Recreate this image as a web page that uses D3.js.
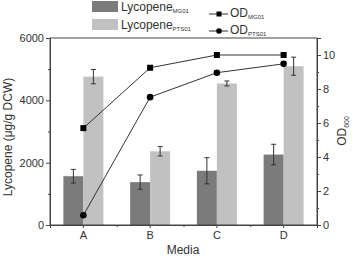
<!DOCTYPE html>
<html>
<head>
<meta charset="utf-8">
<script src="https://cdn.jsdelivr.net/npm/d3@7"></script>
<style>
  body { margin: 0; background: #fff; }
  svg text { font-family: "Liberation Sans", Arial, sans-serif; fill: #333; }
</style>
</head>
<body>
<svg width="356" height="258"></svg>
<script>
var media = ["A", "B", "C", "D"];
var lycMG01 = [1565, 1375, 1740, 2260];     // dark bars
var lycMG01Err = [220, 230, 420, 330];
var lycPTS01 = [4760, 2365, 4540, 5095];    // light bars
var lycPTS01Err = [230, 150, 80, 290];
var odMG01 = [5.7, 9.25, 10.0, 10.0];       // squares
var odPTS01 = [0.57, 7.52, 8.96, 9.48];     // circles
var leftTicks = [0, 2000, 4000, 6000];
var rightTicks = [0, 2, 4, 6, 8, 10];

var svg = d3.select("svg");
var m = {left: 50, right: 317, top: 38, bottom: 225};

var x = d3.scaleBand().domain(media).range([m.left, m.right]);
var yL = d3.scaleLinear().domain([0, 6000]).range([m.bottom, m.top]);
var yR = d3.scaleLinear().domain([0, 11]).range([m.bottom, m.top]);
var barW = 20;

var dark = "#7b7b7b", light = "#c1c1c1", ink = "#333";

// bars
svg.selectAll(".barMG").data(media).enter().append("rect")
    .attr("x", function(d) { return x(d) + x.bandwidth() / 2 - barW; })
    .attr("y", function(d, i) { return yL(lycMG01[i]); })
    .attr("width", barW)
    .attr("height", function(d, i) { return m.bottom - yL(lycMG01[i]); })
    .attr("fill", dark);
svg.selectAll(".barPTS").data(media).enter().append("rect")
    .attr("x", function(d) { return x(d) + x.bandwidth() / 2; })
    .attr("y", function(d, i) { return yL(lycPTS01[i]); })
    .attr("width", barW)
    .attr("height", function(d, i) { return m.bottom - yL(lycPTS01[i]); })
    .attr("fill", light);

// error bars
function errBars(vals, errs, offset) {
  media.forEach(function(d, i) {
    var cx = x(d) + x.bandwidth() / 2 + offset;
    var g = svg.append("g").attr("stroke", ink).attr("stroke-width", 1);
    g.append("line").attr("x1", cx).attr("x2", cx)
      .attr("y1", yL(vals[i] - errs[i])).attr("y2", yL(vals[i] + errs[i]));
    [vals[i] - errs[i], vals[i] + errs[i]].forEach(function(v) {
      g.append("line").attr("x1", cx - 2.5).attr("x2", cx + 2.5)
        .attr("y1", yL(v)).attr("y2", yL(v));
    });
  });
}
errBars(lycMG01, lycMG01Err, -barW / 2);
errBars(lycPTS01, lycPTS01Err, barW / 2);

// OD lines
var line = d3.line()
    .x(function(d, i) { return x(media[i]) + x.bandwidth() / 2; })
    .y(function(d) { return yR(d); });
[odMG01, odPTS01].forEach(function(s) {
  svg.append("path").attr("d", line(s)).attr("fill", "none")
    .attr("stroke", ink).attr("stroke-width", 1);
});
svg.selectAll(".sq").data(odMG01).enter().append("rect")
    .attr("x", function(d, i) { return x(media[i]) + x.bandwidth() / 2 - 3; })
    .attr("y", function(d) { return yR(d) - 3; })
    .attr("width", 6).attr("height", 6).attr("fill", "#000");
svg.selectAll(".ci").data(odPTS01).enter().append("circle")
    .attr("cx", function(d, i) { return x(media[i]) + x.bandwidth() / 2; })
    .attr("cy", function(d) { return yR(d); })
    .attr("r", 3.3).attr("fill", "#000");

// frame
svg.append("rect").attr("x", m.left).attr("y", m.top)
  .attr("width", m.right - m.left).attr("height", m.bottom - m.top)
  .attr("fill", "none").attr("stroke", "#444").attr("stroke-width", 1);

// axes
svg.append("g").attr("transform", "translate(" + m.left + ",0)")
  .call(d3.axisLeft(yL).tickValues(leftTicks).tickFormat(d3.format("d"))
    .tickSize(4).tickPadding(2));
svg.append("g").attr("transform", "translate(" + m.left + ",0)")
  .call(d3.axisLeft(yL).tickValues([1000, 3000, 5000]).tickSize(2).tickFormat(""));
svg.append("g").attr("transform", "translate(" + m.right + ",0)")
  .call(d3.axisRight(yR).tickValues(rightTicks).tickSize(4).tickPadding(2));
svg.append("g").attr("transform", "translate(" + m.right + ",0)")
  .call(d3.axisRight(yR).tickValues([1, 3, 5, 7, 9]).tickSize(2).tickFormat(""));
svg.append("g").attr("transform", "translate(0," + m.bottom + ")")
  .call(d3.axisBottom(x).tickSize(3).tickPadding(3));
svg.append("g").attr("transform", "translate(0," + m.bottom + ")")
  .call(d3.axisBottom(d3.scaleLinear().domain([0, 4]).range([m.left, m.right]))
    .tickValues([1, 2, 3]).tickSize(2).tickFormat(""));
svg.selectAll(".domain").attr("stroke", "#444");
svg.selectAll(".tick line").attr("stroke", "#444");
svg.selectAll(".tick text").attr("font-size", 11).attr("fill", "#333")
  .attr("font-family", "Liberation Sans, Arial, sans-serif");

// axis titles
svg.append("text").attr("transform", "translate(12,137) rotate(-90)")
  .attr("text-anchor", "middle").attr("font-size", 12)
  .text("Lycopene (\u03bcg/g DCW)");
svg.append("text").attr("x", 183).attr("y", 254)
  .attr("text-anchor", "middle").attr("font-size", 12).text("Media");
var odT = svg.append("text").attr("transform", "translate(346,131) rotate(-90)")
  .attr("text-anchor", "middle").attr("font-size", 12);
odT.append("tspan").text("OD");
odT.append("tspan").attr("font-size", 7).attr("dy", 3).text("600");

// legends
var legBars = [{name: "MG01", color: dark}, {name: "PTS01", color: light}];
legBars.forEach(function(d, i) {
  var yy = 1 + i * 18;
  svg.append("rect").attr("x", 92).attr("y", yy).attr("width", 26).attr("height", 11)
    .attr("fill", d.color);
  var t = svg.append("text").attr("x", 121).attr("y", yy + 10).attr("font-size", 12);
  t.append("tspan").text("Lycopene");
  t.append("tspan").attr("font-size", 6).attr("dy", 2).text(d.name);
});
var legLines = ["MG01", "PTS01"];
legLines.forEach(function(d, i) {
  var yy = 14 + i * 17;
  svg.append("line").attr("x1", 209).attr("x2", 228).attr("y1", yy).attr("y2", yy)
    .attr("stroke", ink).attr("stroke-width", 1);
  if (i === 0) {
    svg.append("rect").attr("x", 216.5).attr("y", yy - 2.5).attr("width", 5).attr("height", 5)
      .attr("fill", "#000");
  } else {
    svg.append("circle").attr("cx", 219).attr("cy", yy).attr("r", 2.8).attr("fill", "#000");
  }
  var t = svg.append("text").attr("x", 230).attr("y", yy + 3).attr("font-size", 12);
  t.append("tspan").text("OD");
  t.append("tspan").attr("font-size", 6).attr("dy", 2).text(d);
});
</script>
</body>
</html>
